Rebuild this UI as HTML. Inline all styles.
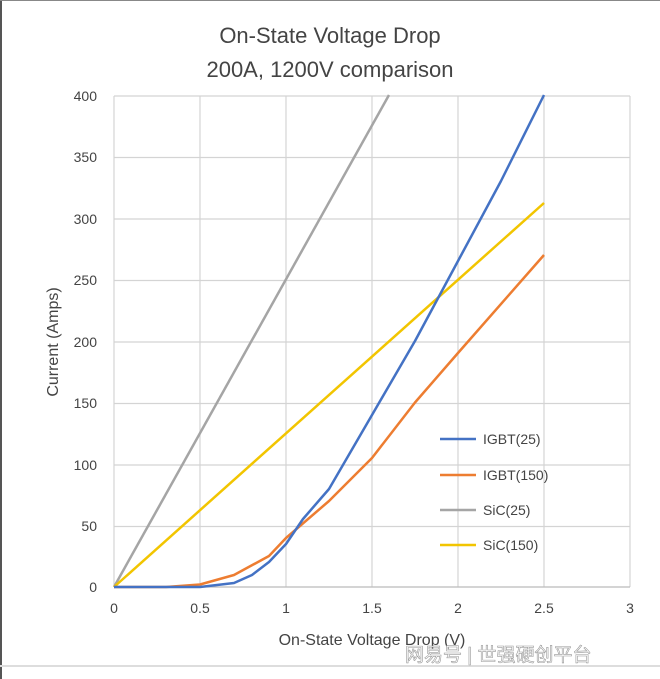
<!DOCTYPE html>
<html><head><meta charset="utf-8"><style>body{margin:0;background:#fff}svg{display:block}</style></head><body>
<svg width="660" height="679" xmlns="http://www.w3.org/2000/svg" font-family="Liberation Sans, sans-serif">
<rect width="660" height="679" fill="#fff"/>
<line x1="1" y1="0" x2="1" y2="679" stroke="#555" stroke-width="2"/>
<line x1="0" y1="0.5" x2="660" y2="0.5" stroke="#888" stroke-width="1"/>
<line x1="0" y1="666" x2="660" y2="666" stroke="#ddd" stroke-width="2"/>
<text x="330" y="43" text-anchor="middle" font-size="22" fill="#444">On-State Voltage Drop</text>
<text x="330" y="77" text-anchor="middle" font-size="22" fill="#444">200A, 1200V comparison</text>
<g stroke="#d4d4d4" stroke-width="1.2">
<line x1="114" y1="96" x2="630" y2="96"/><line x1="114" y1="157.5" x2="630" y2="157.5"/>
<line x1="114" y1="219" x2="630" y2="219"/><line x1="114" y1="280.5" x2="630" y2="280.5"/>
<line x1="114" y1="342" x2="630" y2="342"/><line x1="114" y1="403.5" x2="630" y2="403.5"/>
<line x1="114" y1="465" x2="630" y2="465"/><line x1="114" y1="526.5" x2="630" y2="526.5"/>
<line x1="114" y1="96" x2="114" y2="587"/><line x1="200" y1="96" x2="200" y2="587"/>
<line x1="286" y1="96" x2="286" y2="587"/><line x1="372" y1="96" x2="372" y2="587"/>
<line x1="458" y1="96" x2="458" y2="587"/><line x1="544" y1="96" x2="544" y2="587"/>
<line x1="630" y1="96" x2="630" y2="587"/>
</g>
<line x1="114" y1="587" x2="630" y2="587" stroke="#bbb" stroke-width="1.2"/>
<g font-size="14" fill="#444" text-anchor="end">
<text x="97" y="101">400</text><text x="97" y="162">350</text><text x="97" y="224">300</text>
<text x="97" y="285">250</text><text x="97" y="347">200</text><text x="97" y="408">150</text>
<text x="97" y="470">100</text><text x="97" y="531">50</text><text x="97" y="592">0</text>
</g>
<g font-size="14" fill="#444" text-anchor="middle">
<text x="114" y="613">0</text><text x="200" y="613">0.5</text><text x="286" y="613">1</text>
<text x="372" y="613">1.5</text><text x="458" y="613">2</text><text x="544" y="613">2.5</text><text x="630" y="613">3</text>
</g>
<text x="372" y="645" text-anchor="middle" font-size="16" fill="#444">On-State Voltage Drop (V)</text>
<text transform="translate(58,342) rotate(-90)" text-anchor="middle" font-size="16" fill="#444">Current (Amps)</text>
<g fill="none" stroke-width="2.5" stroke-linejoin="round">
<polyline stroke="#a5a5a5" points="114,587 389,95"/>
<polyline stroke="#f2c500" points="114,587 544,203"/>
<polyline stroke="#ed7d31" points="114,587 166,587 200,584.5 234,575 269,556 286,538 329,501 372,458 415,402.5 458,353 544,255"/>
<polyline stroke="#4472c4" points="114,587 200,587 234,583 252,575 269,562 286,544 303,519 329,489 372,415 415,341 458,261 501,181 544,95"/>
</g>
<g stroke-width="2.5">
<line x1="440" y1="439" x2="476" y2="439" stroke="#4472c4"/>
<line x1="440" y1="475" x2="476" y2="475" stroke="#ed7d31"/>
<line x1="440" y1="510" x2="476" y2="510" stroke="#a5a5a5"/>
<line x1="440" y1="545" x2="476" y2="545" stroke="#f2c500"/>
</g>
<g font-size="14" fill="#444">
<text x="483" y="444">IGBT(25)</text><text x="483" y="480">IGBT(150)</text>
<text x="483" y="515">SiC(25)</text><text x="483" y="550">SiC(150)</text>
</g>
<text x="405" y="661" font-size="19" fill="#fff" stroke="#999" stroke-width="0.6" font-family="Liberation Sans, Noto Sans CJK SC, sans-serif">网易号 | 世强硬创平台</text>
</svg>
</body></html>
